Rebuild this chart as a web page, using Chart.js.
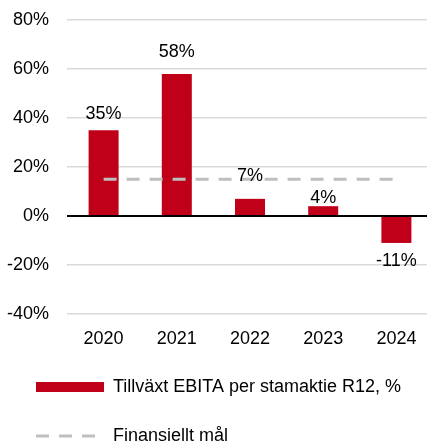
<!DOCTYPE html>
<html>
<head>
<meta charset="utf-8">
<script src="https://cdn.jsdelivr.net/npm/chart.js@4/dist/chart.umd.min.js"></script>
<style>
  html, body { margin: 0; padding: 0; background: #fff; overflow: hidden; }
  #wrap { width: 427px; height: 446px; overflow: hidden; }
</style>
</head>
<body>
<div id="wrap"><canvas id="grafico" width="433" height="455"></canvas></div>
<script>
var ar = ['2020', '2021', '2022', '2023', '2024'];
var tillvaxt = [35, 58, 7, 4, -11];
var finansielltMal = [15, 15, 15, 15, 15];
var tickMin = -40;
var tickMax = 80;
var tickSteg = 20;

var serieNamn = 'Tillväxt EBITA per stamaktie R12, %';
var malNamn = 'Finansiellt mål';

var typsnitt = "'Liberation Sans', Arial, sans-serif";

// etiketter ovanför/under staplarna
var etikettPlugin = {
	id: 'etiketter',
	afterDatasetsDraw: function(chart) {
		var ctx = chart.ctx;
		var meta = chart.getDatasetMeta(0);
		var nudge = [16, 22, 23, 8, 18];
		ctx.save();
		ctx.font = '18px ' + typsnitt;
		ctx.fillStyle = '#000';
		ctx.textAlign = 'center';
		ctx.textBaseline = 'middle';
		meta.data.forEach(function(bar, i) {
			var v = tillvaxt[i];
			var y = v >= 0 ? bar.y - nudge[i] : bar.y + nudge[i];
			ctx.fillText(v + '%', bar.x, y);
		});
		ctx.restore();
	}
};

var grafico = new Chart(document.getElementById('grafico').getContext('2d'), {
	data: {
		labels: ar,
		datasets: [{
			type: 'bar',
			label: serieNamn,
			data: tillvaxt,
			backgroundColor: '#c00018',
			borderWidth: 0,
			barPercentage: 0.82,
			categoryPercentage: 0.5,
			order: 2
		}, {
			type: 'line',
			label: malNamn,
			data: finansielltMal,
			borderColor: '#bfbfbf',
			backgroundColor: '#bfbfbf',
			borderWidth: 3,
			borderDash: [13, 10],
			pointRadius: 0,
			fill: false,
			order: 1
		}]
	},
	options: {
		responsive: false,
		animation: false,
		layout: { padding: { top: 20, left: 5, right: 0, bottom: 0 } },
		scales: {
			x: {
				afterFit: function(scale) { scale.height = 33; },
				grid: { display: false, drawTicks: false },
				border: { display: false },
				ticks: { color: '#000', padding: 14, font: { family: typsnitt, size: 18 } }
			},
			y: {
				min: tickMin,
				max: tickMax,
				afterFit: function(scale) {
					scale.width = 62;
					scale.paddingTop = 0;
					scale.paddingBottom = 0;
				},
				grid: {
					drawTicks: false,
					color: function(c) { return c.tick && c.tick.value === 0 ? '#000' : '#d9d9d9'; },
					lineWidth: function(c) { return c.tick && c.tick.value === 0 ? 2 : 1.5; }
				},
				border: { display: false },
				ticks: {
					stepSize: tickSteg,
					padding: 18,
					color: '#000',
					font: { family: typsnitt, size: 18 },
					callback: function(v) { return v + '%'; }
				}
			}
		},
		plugins: {
			tooltip: { enabled: false },
			legend: {
				position: 'bottom',
				align: 'start',
				labels: {
					usePointStyle: true,
					pointStyleWidth: 68,
					boxHeight: 10,
					padding: 31,
					color: '#000',
					font: { family: typsnitt, size: 18 },
					sort: function(a, b) { return a.datasetIndex - b.datasetIndex; },
					generateLabels: function(chart) {
						var items = Chart.defaults.plugins.legend.labels.generateLabels(chart);
						items.forEach(function(it) {
							if (it.datasetIndex === 0) {
								it.pointStyle = 'rect';
							} else {
								it.pointStyle = 'line';
								it.lineDash = [13, 10];
								it.lineWidth = 3;
								it.strokeStyle = '#bfbfbf';
							}
						});
						return items;
					}
				}
			}
		}
	},
	plugins: [etikettPlugin]
});
</script>
</body>
</html>
